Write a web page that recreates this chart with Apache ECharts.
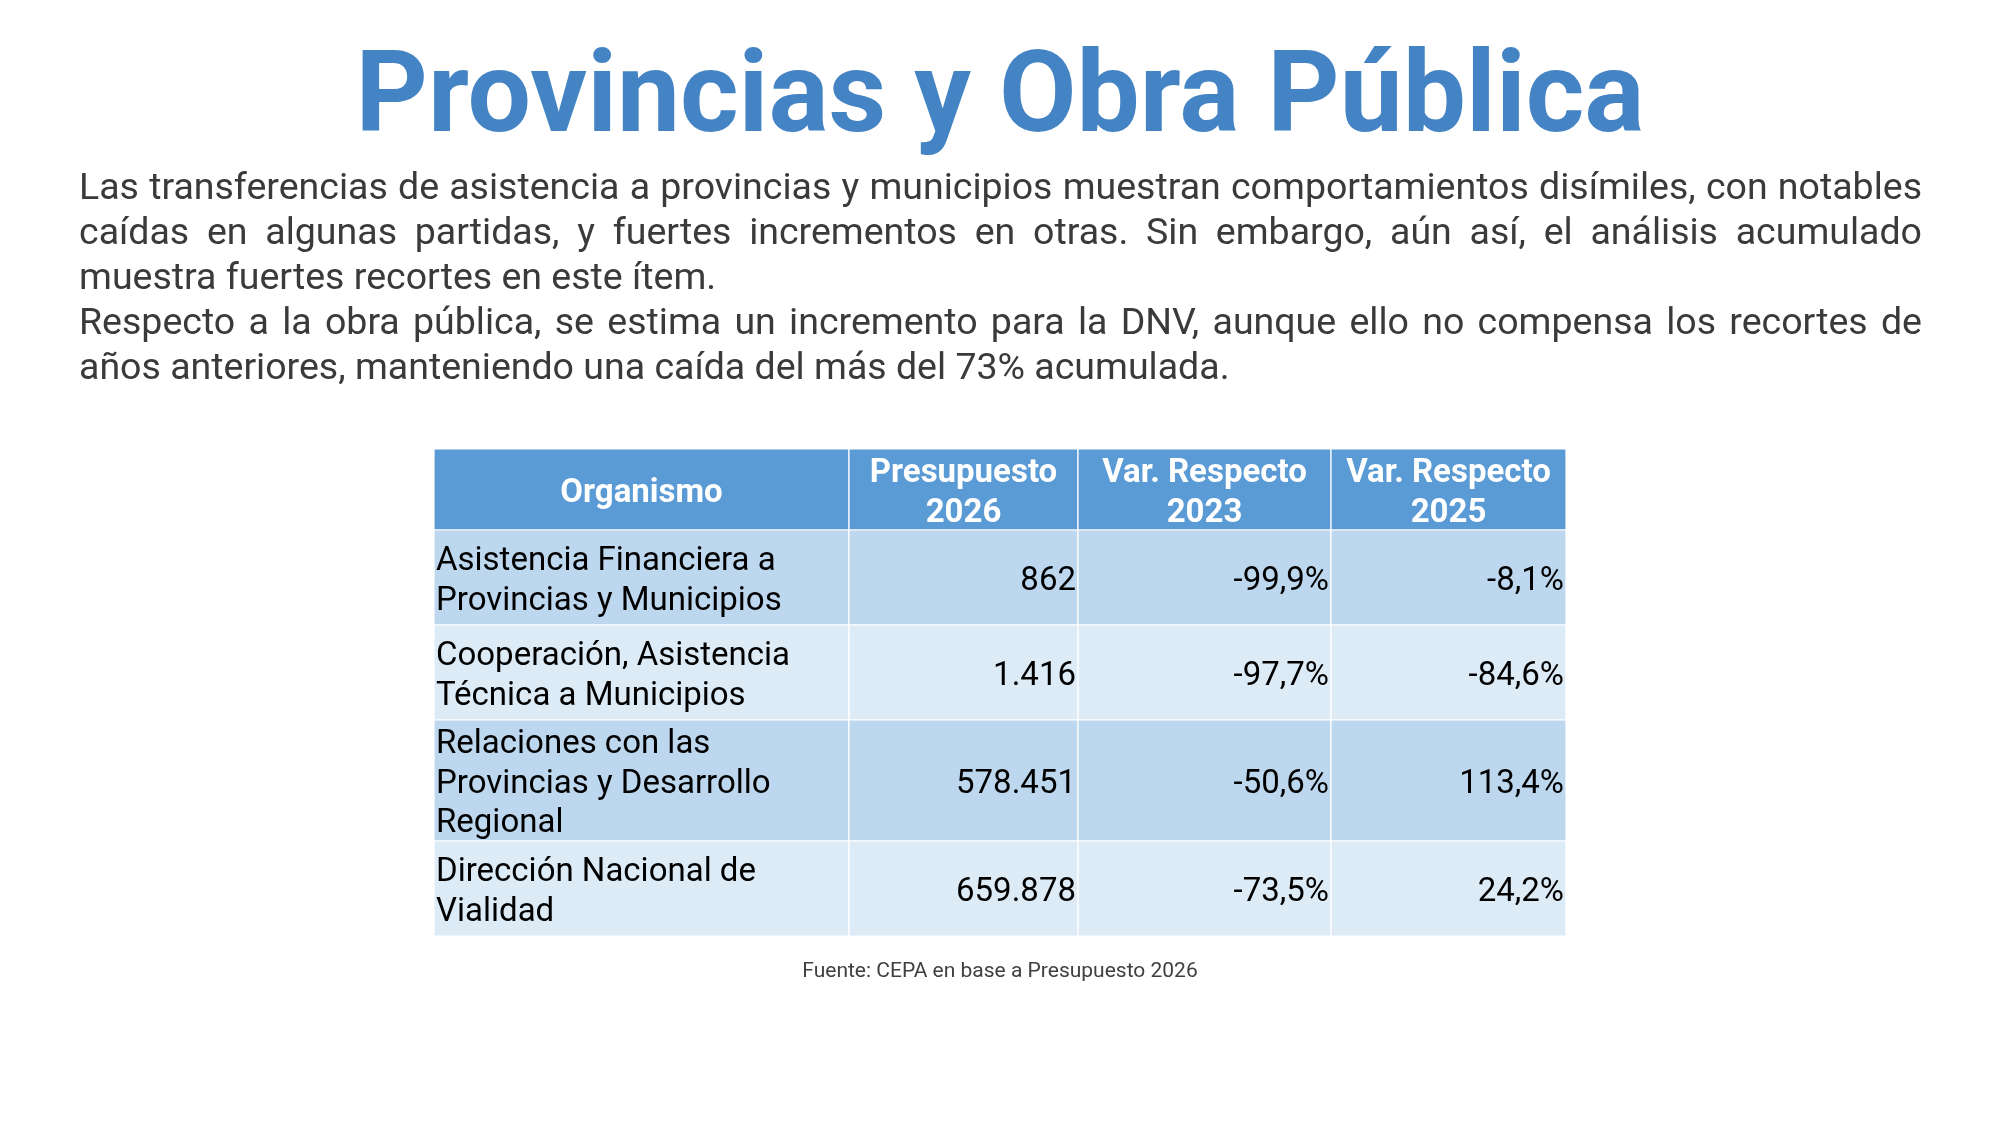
<!DOCTYPE html>
<html>
<head>
<meta charset="utf-8">
<script src="https://cdn.jsdelivr.net/npm/echarts@6/dist/echarts.min.js"></script>
<style>
html,body{margin:0;padding:0;background:#fff;}
#chart{width:2000px;height:1125px;}
</style>
</head>
<body>
<div id="chart"></div>
<script>
// ---- data ----
var titleText = "Provincias y Obra Pública";
var paragraphLines = [
  ["Las transferencias de asistencia a provincias y municipios muestran comportamientos disímiles, con notables", true],
  ["caídas en algunas partidas, y fuertes incrementos en otras. Sin embargo, aún así, el análisis acumulado", true],
  ["muestra fuertes recortes en este ítem.", false],
  ["Respecto a la obra pública, se estima un incremento para la DNV, aunque ello no compensa los recortes de", true],
  ["años anteriores, manteniendo una caída del más del 73% acumulada.", false]
];
var headers = ["Organismo", "Presupuesto\n2026", "Var. Respecto\n2023", "Var. Respecto\n2025"];
var organismos = [
  "Asistencia Financiera a\nProvincias y Municipios",
  "Cooperación, Asistencia\nTécnica a Municipios",
  "Relaciones con las\nProvincias y Desarrollo\nRegional",
  "Dirección Nacional de\nVialidad"
];
var presupuesto2026 = [862, 1416, 578451, 659878];
var var2023 = [-99.9, -97.7, -50.6, -73.5];
var var2025 = [-8.1, -84.6, 113.4, 24.2];
var sourceText = "Fuente: CEPA en base a Presupuesto 2026";

// ---- layout (styles) ----
var colWidths = [415, 229, 253, 235];
var rowHeights = [81, 95, 95, 121, 95];
var tableLeft = 434, tableTop = 449;
var bodyFont = "37.5px Roboto";
var bodyLeft = 79, bodyRight = 1922, bodyY0 = 190, bodyStep = 45;
var cellFontSize = 33, cellLineHeight = 39.5, cellTextShift = 4;

function fmtNum(v) {
  return String(v).replace(/\B(?=(\d{3})+(?!\d))/g, ".");
}
function fmtPct(v) {
  return v.toFixed(1).replace(".", ",") + "%";
}

var cum = function (arr) { var r = [0]; arr.forEach(function (a) { r.push(r[r.length - 1] + a); }); return r; };
var colX = cum(colWidths), rowY = cum(rowHeights);
var totalW = colX[colX.length - 1], totalH = rowY[rowY.length - 1];

// build cell data [col, row, text, kind]
var cells = [];
headers.forEach(function (h, c) { cells.push([c, 0, h, 'h']); });
organismos.forEach(function (o, r) {
  cells.push([0, r + 1, o, 'l']);
  cells.push([1, r + 1, fmtNum(presupuesto2026[r]), 'n']);
  cells.push([2, r + 1, fmtPct(var2023[r]), 'n']);
  cells.push([3, r + 1, fmtPct(var2025[r]), 'n']);
});

// paragraph with justification
var mctx = document.createElement('canvas').getContext('2d');
mctx.font = bodyFont;
var graphics = [];
graphics.push({
  type: 'text', left: 'center', top: 46,
  style: { text: titleText, font: 'bold 112.5px Roboto', fill: '#4484c4' }
});
paragraphLines.forEach(function (ln, i) {
  var y = bodyY0 + i * bodyStep;
  if (!ln[1]) {
    graphics.push({ type: 'text', x: bodyLeft, y: y,
      style: { text: ln[0], font: bodyFont, fill: '#3a3a3a', align: 'left', verticalAlign: 'middle' } });
    return;
  }
  var words = ln[0].split(' ');
  var widths = words.map(function (w) { return mctx.measureText(w).width; });
  var sum = widths.reduce(function (a, b) { return a + b; }, 0);
  var gap = (bodyRight - bodyLeft - sum) / (words.length - 1);
  var x = bodyLeft;
  words.forEach(function (w, k) {
    graphics.push({ type: 'text', x: x, y: y,
      style: { text: w, font: bodyFont, fill: '#3a3a3a', align: 'left', verticalAlign: 'middle' } });
    x += widths[k] + gap;
  });
});
graphics.push({
  type: 'text', x: 1000, y: 971.5,
  style: { text: sourceText, font: '21px Roboto', fill: '#404040', align: 'center', verticalAlign: 'middle' }
});

var chart = echarts.init(document.getElementById('chart'));
chart.setOption({
  backgroundColor: '#ffffff',
  animation: false,
  graphic: graphics,
  grid: { left: tableLeft, top: tableTop, width: totalW, height: totalH },
  xAxis: { type: 'value', min: 0, max: totalW, show: false },
  yAxis: { type: 'value', min: 0, max: totalH, inverse: true, show: false },
  series: [{
    type: 'custom',
    data: cells,
    encode: { x: 0, y: 1 },
    renderItem: function (params, api) {
      var c = api.value(0), r = api.value(1);
      var d = cells[params.dataIndex];
      var p0 = api.coord([colX[c], rowY[r]]);
      var p1 = api.coord([colX[c + 1], rowY[r + 1]]);
      var fill = r === 0 ? '#5b9bd5' : (r % 2 === 1 ? '#bdd7ee' : '#ddebf7');
      var kind = d[3];
      var tx, align;
      if (kind === 'h') { tx = (p0[0] + p1[0]) / 2; align = 'center'; }
      else if (kind === 'l') { tx = p0[0] + 2; align = 'left'; }
      else { tx = p1[0] - 2; align = 'right'; }
      return {
        type: 'group',
        children: [
          { type: 'rect', shape: { x: p0[0], y: p0[1], width: p1[0] - p0[0], height: p1[1] - p0[1] },
            style: { fill: fill, stroke: '#ffffff', lineWidth: 1.2 } },
          { type: 'text', x: tx, y: (p0[1] + p1[1]) / 2 + cellTextShift,
            style: { text: d[2], fill: kind === 'h' ? '#ffffff' : '#000000',
              font: (kind === 'h' ? 'bold ' : '') + cellFontSize + 'px Roboto',
              lineHeight: cellLineHeight, align: align, verticalAlign: 'middle' } }
        ]
      };
    }
  }]
});
</script>
</body>
</html>
